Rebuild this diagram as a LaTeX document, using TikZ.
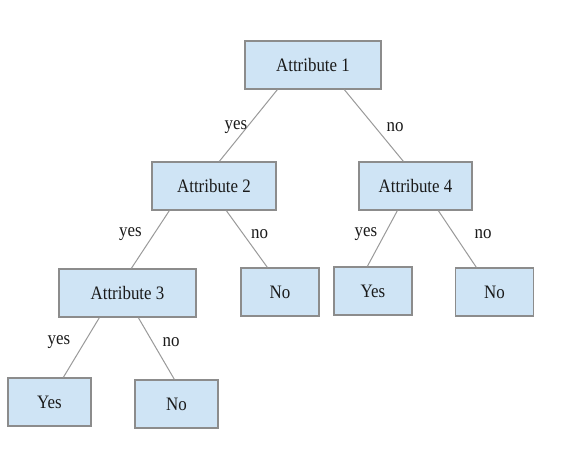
\documentclass[tikz,border=0pt]{standalone}
\usepackage{fontspec}
\setmainfont[FakeStretch=0.89]{Liberation Serif}
\definecolor{boxfill}{HTML}{CFE4F5}
\definecolor{boxline}{HTML}{8C8C8C}
\definecolor{edgeline}{HTML}{9A9A9A}
\definecolor{txt}{HTML}{1A1A1A}
\begin{document}
\begin{tikzpicture}[x=1pt,y=-1pt,
  treebox/.style={draw=boxline,line width=1.3pt,fill=boxfill,rectangle,inner sep=0pt,
    text=txt,font=\fontsize{19}{21}\selectfont},
  edgelbl/.style={text=txt,font=\fontsize{19}{21}\selectfont,inner sep=0pt},
  branch/.style={draw=edgeline,line width=1pt}]
\useasboundingbox[fill=white] (0,0) rectangle (567,448);
\node[treebox,minimum width=136pt,minimum height=48pt] (a1) at (313,65) {Attribute 1};
\node[treebox,minimum width=124pt,minimum height=48pt] (a2) at (214,186) {Attribute 2};
\node[treebox,minimum width=113pt,minimum height=48pt] (a4) at (415.5,186) {Attribute 4};
\node[treebox,minimum width=137pt,minimum height=48pt] (a3) at (127.5,293) {Attribute 3};
\node[treebox,minimum width=78pt,minimum height=48pt] (n1) at (280,292) {No};
\node[treebox,minimum width=78pt,minimum height=48pt] (y2) at (373,291) {Yes};
\node[treebox,minimum width=78pt,minimum height=48pt] (n2) at (494.5,292) {No};
\node[treebox,minimum width=83pt,minimum height=48pt] (y3) at (49.5,402) {Yes};
\node[treebox,minimum width=83pt,minimum height=48pt] (n3) at (176.5,404) {No};
\draw[branch] ([xshift=33pt]a1.south west) -- ([xshift=68pt]a2.north west);
\draw[branch] ([xshift=100pt]a1.south west) -- ([xshift=45pt]a4.north west);
\draw[branch] ([xshift=18pt]a2.south west) -- ([xshift=73pt]a3.north west);
\draw[branch] ([xshift=75pt]a2.south west) -- ([xshift=27pt]n1.north west);
\draw[branch] ([xshift=39pt]a4.south west) -- ([xshift=34pt]y2.north west);
\draw[branch] ([xshift=80pt]a4.south west) -- ([xshift=21.5pt]n2.north west);
\draw[branch] ([xshift=41pt]a3.south west) -- ([xshift=56pt]y3.north west);
\draw[branch] ([xshift=80pt]a3.south west) -- ([xshift=40pt]n3.north west);
\node[edgelbl] (l1) at (236,127.5) {yes};
\node[edgelbl] (l2) at (395,127.5) {no};
\node[edgelbl] (l3) at (130.5,234.5) {yes};
\node[edgelbl] (l4) at (259.5,234.5) {no};
\node[edgelbl] (l5) at (366,234.5) {yes};
\node[edgelbl] (l6) at (483,234.5) {no};
\node[edgelbl] (l7) at (59,342.5) {yes};
\node[edgelbl] (l8) at (171,342.5) {no};
\end{tikzpicture}
\end{document}
